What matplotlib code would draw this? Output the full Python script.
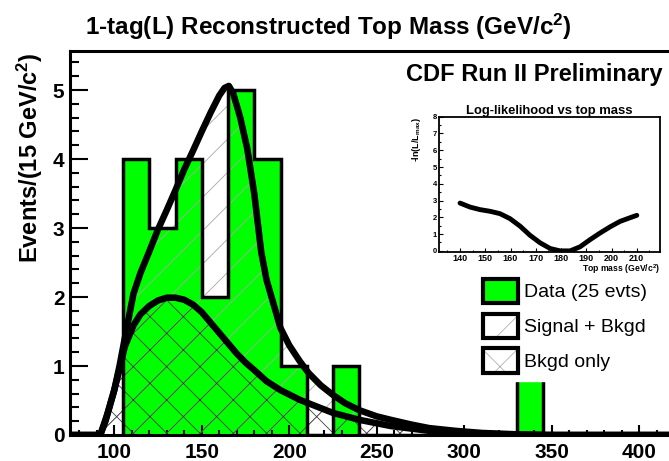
import matplotlib
matplotlib.use('Agg')
import matplotlib.pyplot as plt
from matplotlib.patches import Patch
from matplotlib.ticker import MultipleLocator

plt.rcParams['font.family'] = ['Liberation Sans', 'DejaVu Sans']
plt.rcParams['mathtext.default'] = 'regular'
plt.rcParams['hatch.linewidth'] = 0.6

# data histogram, 15 GeV bins
bin_edges = [105, 120, 135, 150, 165, 180, 195, 210, 225, 240,
             255, 270, 285, 300, 315, 330, 345]
data_counts = [4, 3, 4, 2, 5, 4, 1, 0, 1, 0, 0, 0, 0, 0, 0, 1]

# signal + background template
sig_mass = [75, 92, 95, 100, 103, 106, 111, 115, 120, 125, 130, 135, 140,
            145, 150, 155, 160, 163, 165.5, 168, 172, 176, 180, 184, 187,
            191, 195, 200, 206, 211, 218, 225, 232, 240, 250, 258, 270,
            280, 295, 310, 330, 350, 420]
sig_curve = [0, 0, 0.2, 0.65, 1.0, 1.4, 2.05, 2.35, 2.66, 2.98, 3.26, 3.55,
             3.85, 4.12, 4.40, 4.67, 4.92, 5.03, 5.06, 4.95, 4.60, 4.15,
             3.50, 2.65, 2.25, 1.90, 1.55, 1.30, 1.07, 0.90, 0.72, 0.58,
             0.46, 0.36, 0.27, 0.22, 0.15, 0.10, 0.06, 0.03, 0.01, 0, 0]

# background only template
bkg_mass = [75, 92, 96, 100, 103, 106, 111, 115, 120, 125, 130, 135, 140,
            145, 150, 155, 160, 165, 170, 175, 180, 187, 195, 206, 211,
            225, 240, 258, 280, 300, 320, 340, 420]
bkg_curve = [0, 0, 0.3, 0.65, 0.95, 1.28, 1.59, 1.75, 1.87, 1.95, 1.99,
             1.99, 1.96, 1.89, 1.78, 1.63, 1.48, 1.33, 1.18, 1.05, 0.94,
             0.78, 0.65, 0.51, 0.46, 0.32, 0.22, 0.13, 0.06, 0.03, 0.01,
             0, 0]

# inset: -ln(L/Lmax) vs top mass
ll_mass = [140, 144, 147.9, 151.9, 155.8, 159.8, 163.8, 167.7, 171.7,
           175.7, 179.6, 183.6, 187.5, 191.5, 195.5, 199.4, 203.4, 207.4, 210]
ll_value = [2.85, 2.61, 2.46, 2.36, 2.22, 1.92, 1.47, 0.93, 0.48, 0.14,
            0.0, 0.0, 0.24, 0.67, 1.07, 1.43, 1.76, 1.98, 2.12]

fig = plt.figure(figsize=(6.69, 4.61), dpi=100)
ax = fig.add_axes([0.1046, 0.0564, 0.8954, 0.8336])

ax.stairs(data_counts, bin_edges, fill=True, color='#00ff00', zorder=1)
ax.fill_between(sig_mass, sig_curve, 0, facecolor='none', edgecolor='#a8a8a8',
                hatch='/', linewidth=0, zorder=2)
ax.fill_between(bkg_mass, bkg_curve, 0, facecolor='none', edgecolor='#404040',
                hatch='x', linewidth=0, zorder=2)
ax.stairs(data_counts, bin_edges, baseline=0, color='black', lw=2.5, zorder=2.5)
ax.plot(sig_mass, sig_curve, color='black', lw=4.7, solid_joinstyle='round',
        solid_capstyle='round', zorder=3)
ax.plot(bkg_mass, bkg_curve, color='black', lw=4.7, solid_joinstyle='round',
        solid_capstyle='round', zorder=3)

ax.set_xlim(74.7, 417)
ax.set_ylim(0, 5.57)
ax.set_xticks(range(100, 401, 50))
ax.xaxis.set_minor_locator(MultipleLocator(10))
ax.set_yticks(range(0, 6))
ax.yaxis.set_minor_locator(MultipleLocator(0.2))
ax.tick_params(which='both', direction='in', width=1.5, labelsize=15)
ax.tick_params(axis='y', which='major', length=13, pad=4)
ax.tick_params(axis='y', which='minor', length=6.5)
ax.tick_params(axis='x', which='major', length=7, pad=6)
ax.tick_params(axis='x', which='minor', length=3.6)
for lab in ax.get_xticklabels() + ax.get_yticklabels():
    lab.set_fontweight('bold')
ax.spines['right'].set_visible(False)
for s in ['left', 'top', 'bottom']:
    ax.spines[s].set_linewidth(2.2)

# legend
h_data = Patch(facecolor='#00ff00', edgecolor='black', linewidth=3, joinstyle='round')
h_sig = (Patch(facecolor='white', edgecolor='#b0b0b0', hatch='/', linewidth=0),
         Patch(facecolor='none', edgecolor='black', linewidth=3, joinstyle='round'))
h_bkg = (Patch(facecolor='white', edgecolor='#b0b0b0', hatch='x', linewidth=0),
         Patch(facecolor='none', edgecolor='black', linewidth=3, joinstyle='round'))
leg = ax.legend([h_data, h_sig, h_bkg], ['Data (25 evts)', 'Signal + Bkgd', 'Bkgd only'],
                loc='upper left', bbox_to_anchor=(475 / 669, 1 - 271 / 461),
                bbox_transform=fig.transFigure, borderaxespad=0, borderpad=0.4,
                fontsize=14, handlelength=1.8, handleheight=1.55, labelspacing=0.54,
                handletextpad=0.3, frameon=True, fancybox=False, facecolor='white',
                edgecolor='white', framealpha=1)
leg.set_zorder(5)

# inset
ins = fig.add_axes([0.6567, 0.454, 0.3299, 0.2928])
ins.plot(ll_mass, ll_value, color='black', lw=3.5, solid_capstyle='round')
ins.set_xlim(131.8, 219.2)
ins.set_ylim(-0.05, 8)
ins.set_xticks(range(140, 211, 10))
ins.set_yticks(range(0, 9))
ins.yaxis.set_minor_locator(MultipleLocator(0.5))
ins.xaxis.set_minor_locator(MultipleLocator(5))
ins.tick_params(which='both', direction='in', width=0.8, pad=1.5)
ins.tick_params(which='major', length=3)
ins.tick_params(which='minor', length=1.5)
ins.tick_params(axis='x', labelsize=6.5)
ins.tick_params(axis='y', labelsize=5.5)
for lab in ins.get_xticklabels() + ins.get_yticklabels():
    lab.set_fontweight('bold')
for s in ins.spines.values():
    s.set_linewidth(1.3)
ins.set_title('Log-likelihood vs top mass', fontsize=9.4, fontweight='bold', pad=2)
ins.text(-0.105, 1.0, '-ln(L/L$_{max}$)', rotation=90, ha='center', va='top',
         fontsize=6.5, fontweight='bold', transform=ins.transAxes)
ins.text(1.0, -0.078, 'Top mass (GeV/c$^2$)', ha='right', va='top',
         fontsize=6.2, fontweight='bold', transform=ins.transAxes)

fig.text(328 / 669, 1 - 27 / 461, '1-tag(L) Reconstructed Top Mass (GeV/c$^2$)',
         ha='center', va='center', fontsize=17.5, fontweight='bold')
fig.text(663 / 669, 1 - 75 / 461, 'CDF Run II Preliminary', ha='right', va='center',
         fontsize=17, fontweight='bold')
fig.text(30 / 669, 1 - 157.5 / 461, 'Events/(15 GeV/c$^2$)', rotation=90,
         ha='center', va='center', fontsize=17, fontweight='bold')

fig.savefig('out.png', dpi=100)
